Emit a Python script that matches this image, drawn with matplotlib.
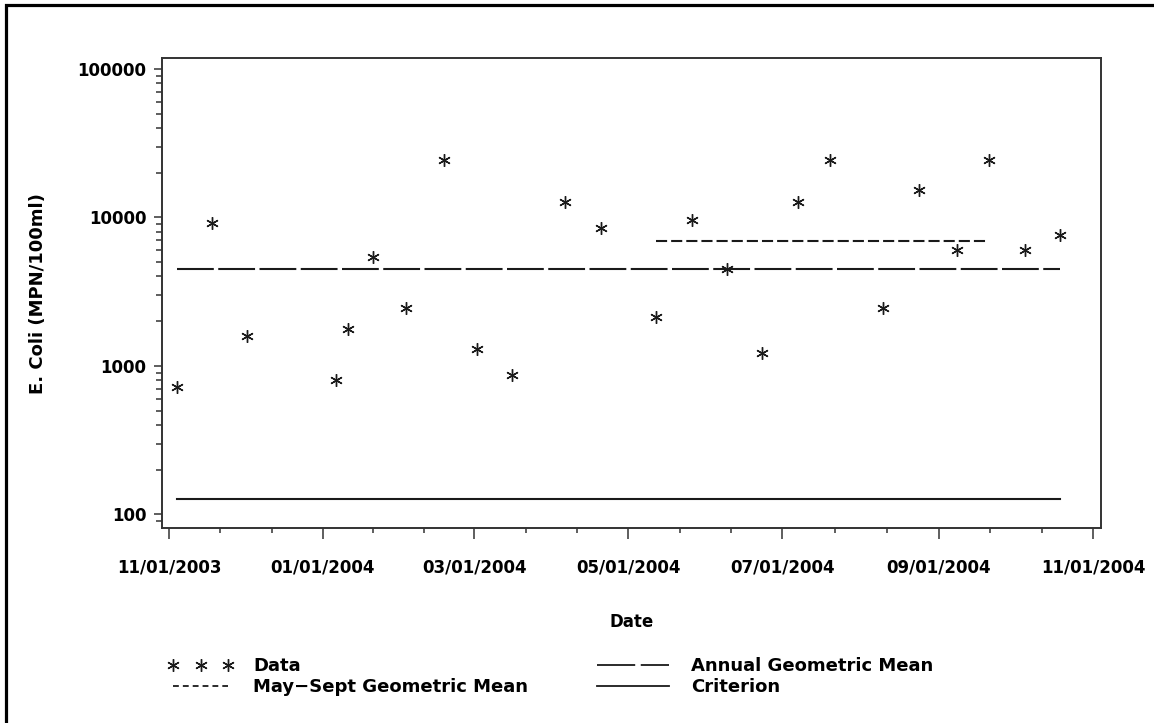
import numpy as np
import pandas as pd
import matplotlib
matplotlib.use('Agg')
import matplotlib.pyplot as plt
import matplotlib.dates as mdates
from matplotlib.lines import Line2D
from matplotlib.patches import Rectangle
from matplotlib.ticker import FixedLocator, FuncFormatter, LogLocator, NullFormatter

plt.rcParams['font.family'] = ['DejaVu Sans']
plt.rcParams['lines.scale_dashes'] = False

# sample dates and E. coli counts (MPN/100ml)
sample_dates = ['2003-11-04', '2003-11-18', '2003-12-02', '2004-01-06', '2004-01-11',
                '2004-01-21', '2004-02-03', '2004-02-18', '2004-03-02', '2004-03-16',
                '2004-04-06', '2004-04-20', '2004-05-12', '2004-05-26', '2004-06-09',
                '2004-06-23', '2004-07-07', '2004-07-20', '2004-08-10', '2004-08-24',
                '2004-09-08', '2004-09-21', '2004-10-05', '2004-10-19']
ecoli = [721, 9140, 1590, 804, 1770,
         5450, 2455, 24196, 1300, 869,
         12760, 8530, 2147, 9610, 4500,
         1222, 12760, 24196, 2443, 15300,
         6040, 24196, 6040, 7620]

annual_geomean = 4500
summer_geomean = 6950
summer_start = '2004-05-12'
summer_end = '2004-09-21'
criterion = 126

axis_start = '2003-11-01'
axis_end = '2004-11-01'
y_ticks = [100, 1000, 10000, 100000]

dates = pd.to_datetime(sample_dates)
first, last = dates[0], dates[-1]

fig = plt.figure(figsize=(11.54, 7.23), dpi=100)
ax = fig.add_axes([0.1401, 0.2697, 0.8140, 0.6497])

ink = '#1a1a1a'
star = (6, 2, 0)
summer_dash = (8.0, 2.9)
annual_dash = (26.5, 3.2)

ax.plot(dates, ecoli, linestyle='None', marker=star, markersize=9,
        markeredgewidth=1.0, color=ink)
ax.plot([pd.Timestamp(summer_start), pd.Timestamp(summer_end)],
        [summer_geomean, summer_geomean], color=ink, lw=1.5, dashes=summer_dash)
ax.plot([first, last], [annual_geomean, annual_geomean], color=ink, lw=1.5,
        dashes=annual_dash)
ax.plot([first, last], [criterion, criterion], color=ink, lw=1.5)

# axes
ax.set_yscale('log')
ax.set_ylim(80.9, 118000)
ax.yaxis.set_major_locator(FixedLocator(y_ticks))
ax.yaxis.set_major_formatter(FuncFormatter(lambda v, p: '%d' % v))
ax.yaxis.set_minor_locator(LogLocator(base=10, subs=np.arange(2, 10)))
ax.yaxis.set_minor_formatter(NullFormatter())

x0 = pd.Timestamp(axis_start)
x1 = pd.Timestamp(axis_end)
ax.set_xlim(x0 - pd.Timedelta(days=2.9), x1 + pd.Timedelta(days=3.2))
majors = pd.date_range(x0, x1, freq='2MS')
major_num = mdates.date2num(majors)
minor_num = []
for a, b in zip(major_num[:-1], major_num[1:]):
    minor_num += [a + (b - a) / 3, a + 2 * (b - a) / 3]
ax.xaxis.set_major_locator(FixedLocator(major_num))
ax.xaxis.set_minor_locator(FixedLocator(minor_num))
ax.xaxis.set_major_formatter(mdates.DateFormatter('%m/%d/%Y'))

for s in ax.spines.values():
    s.set_linewidth(1.4)
    s.set_color('#333333')

ax.tick_params(axis='y', which='major', length=5.5, width=1.1, pad=5.5,
               labelsize=12, color='#333333')
ax.tick_params(axis='y', which='minor', length=4, width=1.1, color='#333333')
ax.tick_params(axis='x', which='major', length=8, width=1.1, pad=14,
               labelsize=12, color='#333333')
ax.tick_params(axis='x', which='minor', length=3.8, width=1.1, color='#333333')
for lbl in ax.get_xticklabels() + ax.get_yticklabels():
    lbl.set_fontweight('bold')

ax.set_xlabel('Date', fontsize=12, fontweight='bold')
ax.xaxis.set_label_coords(0.5, -0.181)
ax.set_ylabel('E. Coli (MPN/100ml)', fontsize=13, fontweight='bold')
ax.yaxis.set_label_coords(-0.122, 0.5)

# legend, two columns (legend samples drawn with their own dash lengths)
h_data = Line2D([], [], linestyle='None', marker=star, markersize=9,
                markeredgewidth=1.0, color=ink)
h_summer = Line2D([], [], color=ink, lw=1.3, dashes=(4.2, 2.9))
h_annual = Line2D([], [], color=ink, lw=1.3, dashes=(27.5, 4.0))
h_crit = Line2D([], [], color=ink, lw=1.3)
leg_kw = dict(frameon=False, loc='upper left', borderpad=0, borderaxespad=0,
              labelspacing=0.2, numpoints=3, prop={'size': 13, 'weight': 'bold'})
fig.legend([h_data, h_summer], ['Data', 'May\u2212Sept Geometric Mean'],
           bbox_to_anchor=(0.1456, 0.0915), handlelength=3.6, handletextpad=1.1, **leg_kw)
fig.legend([h_annual, h_crit], ['Annual Geometric Mean', 'Criterion'],
           bbox_to_anchor=(0.513, 0.0915), handlelength=4.54, handletextpad=0.94, **leg_kw)

# outer frame of the graph page
fig.add_artist(Rectangle((5.5 / 1154, -0.1), 1.2, 1.1 - 5.5 / 723, transform=fig.transFigure,
                         fill=False, lw=2.3, edgecolor='black', clip_on=False))

fig.savefig('out.png', dpi=100)
